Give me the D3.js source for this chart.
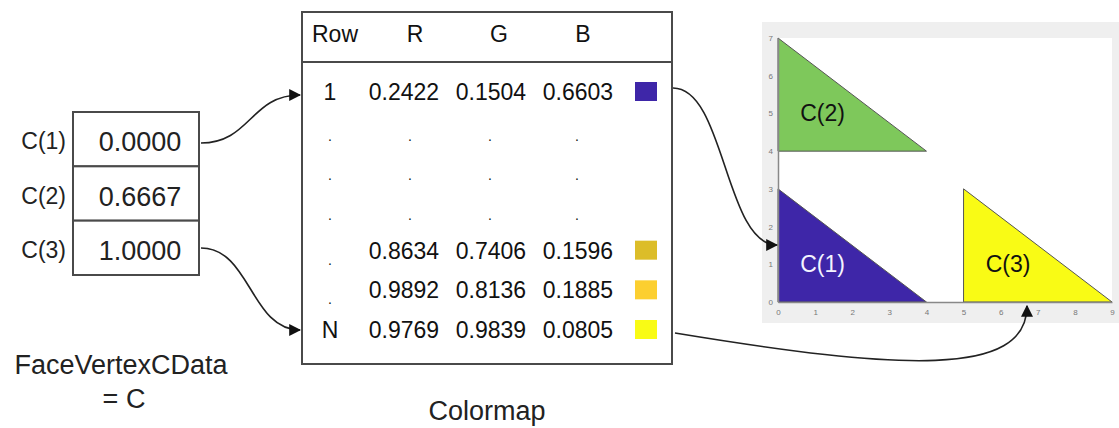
<!DOCTYPE html>
<html><head><meta charset="utf-8">
<script src="https://cdn.jsdelivr.net/npm/d3@7"></script>
<style>
html,body{margin:0;padding:0;background:#fff;}
svg{display:block;font-family:"Liberation Sans",Arial,sans-serif;}
</style></head>
<body>
<svg id="c" width="1119" height="428"></svg>
<script>
// ---------- data ----------
const faceLabels = ["C(1)", "C(2)", "C(3)"];
const faceValues = [0.0000, 0.6667, 1.0000];

const tableHeaders = ["Row", "R", "G", "B"];
const rowLabels = ["1", ".", ".", ".", ".", ".", "N"];
const rValues = [0.2422, null, null, null, 0.8634, 0.9892, 0.9769];
const gValues = [0.1504, null, null, null, 0.7406, 0.8136, 0.9839];
const bValues = [0.6603, null, null, null, 0.1596, 0.1885, 0.0805];

const triLabels = ["C(1)", "C(2)", "C(3)"];
const triXs = [[0, 4, 0], [0, 4, 0], [5, 9, 5]];
const triYs = [[0, 0, 3], [4, 4, 7], [0, 0, 3]];
const xTicks = [0, 1, 2, 3, 4, 5, 6, 7, 8, 9];
const yTicks = [0, 1, 2, 3, 4, 5, 6, 7];

// ---------- helpers ----------
const svg = d3.select("#c");
const rgb = (r, g, b) => d3.rgb(r * 255, g * 255, b * 255).formatHex();
const fmt = d3.format(".4f");
const FONT = "'Liberation Sans',Arial,sans-serif";

// arrow marker
svg.append("defs").append("marker")
  .attr("id", "ah").attr("viewBox", "0 0 10 10")
  .attr("refX", 9).attr("refY", 5)
  .attr("markerWidth", 12).attr("markerHeight", 12)
  .attr("markerUnits", "userSpaceOnUse")
  .attr("orient", "auto")
  .append("path").attr("d", "M0,0 L10,5 L0,10 Z").attr("fill", "#111");

// ---------- left: FaceVertexCData boxes ----------
const boxY = d3.scaleBand().domain(faceLabels).range([112, 275]);
const boxX0 = 73, boxX1 = 199;
const gBox = svg.append("g");
gBox.selectAll("rect").data(faceLabels).join("rect")
  .attr("x", boxX0).attr("y", d => boxY(d))
  .attr("width", boxX1 - boxX0).attr("height", boxY.bandwidth())
  .attr("fill", "#fff").attr("stroke", "#4a4a4a").attr("stroke-width", 2);
gBox.selectAll("text.lab").data(faceLabels).join("text")
  .attr("class", "lab")
  .attr("x", 66).attr("y", d => boxY(d) + boxY.bandwidth() / 2 + 2)
  .attr("text-anchor", "end").attr("dominant-baseline", "central")
  .attr("font-size", 23).attr("fill", "#222").text(d => d);
gBox.selectAll("text.val").data(faceValues).join("text")
  .attr("class", "val")
  .attr("x", 140).attr("y", (d, i) => boxY(faceLabels[i]) + boxY.bandwidth() / 2 + 3)
  .attr("text-anchor", "middle").attr("dominant-baseline", "central")
  .attr("font-size", 27).attr("fill", "#222").text(d => fmt(d));

svg.append("text").attr("x", 121).attr("y", 374).attr("text-anchor", "middle")
  .attr("font-size", 27).attr("fill", "#222").text("FaceVertexCData");
svg.append("text").attr("x", 124).attr("y", 408).attr("text-anchor", "middle")
  .attr("font-size", 27).attr("fill", "#222").text("= C");

// ---------- middle: colormap table ----------
const tX0 = 302, tX1 = 672, tY0 = 12, tY1 = 364, tHead = 62;
svg.append("rect").attr("x", tX0).attr("y", tY0).attr("width", tX1 - tX0).attr("height", tY1 - tY0)
  .attr("fill", "#fff").attr("stroke", "#4a4a4a").attr("stroke-width", 2);
svg.append("line").attr("x1", tX0).attr("x2", tX1).attr("y1", tHead).attr("y2", tHead)
  .attr("stroke", "#4a4a4a").attr("stroke-width", 2);

const headX = [335, 415, 499, 583];
svg.selectAll("text.hd").data(tableHeaders).join("text").attr("class", "hd")
  .attr("x", (d, i) => headX[i]).attr("y", 34)
  .attr("text-anchor", "middle").attr("dominant-baseline", "central")
  .attr("font-size", 23).attr("fill", "#111").text(d => d);

const rowY = d3.scaleLinear().domain([0, rowLabels.length - 1]).range([92, 330]);
const colX = [330, 404, 491, 578];
const cols = [rValues, gValues, bValues];
const DOT = 14;

rowLabels.forEach((lab, i) => {
  const y = rowY(i);
  const isDot = lab === ".";
  svg.append("text").attr("x", colX[0]).attr("y", isDot ? y + (rValues[i] == null ? 4 : 9) : y)
    .attr("text-anchor", "middle").attr("dominant-baseline", "central")
    .attr("font-size", isDot ? DOT : 23).attr("fill", "#111").text(lab);
  cols.forEach((arr, j) => {
    const v = arr[i];
    svg.append("text").attr("x", v == null ? [410, 490, 577][j] : colX[j + 1]).attr("y", v == null ? y + 4 : y)
      .attr("text-anchor", "middle").attr("dominant-baseline", "central")
      .attr("font-size", v == null ? DOT : 23).attr("fill", "#111")
      .text(v == null ? "." : fmt(v));
  });
  if (rValues[i] != null) {
    svg.append("rect").attr("x", 635).attr("y", y - 10).attr("width", 22).attr("height", 19)
      .attr("fill", rgb(rValues[i], gValues[i], bValues[i]));
  }
});

svg.append("text").attr("x", 487).attr("y", 420).attr("text-anchor", "middle")
  .attr("font-size", 27).attr("fill", "#222").text("Colormap");

// ---------- right: patch plot ----------
svg.append("rect").attr("x", 762).attr("y", 22).attr("width", 357).attr("height", 301).attr("fill", "#efefef");
const x = d3.scaleLinear().domain([0, 9]).range([778, 1112]);
const y = d3.scaleLinear().domain([0, 7]).range([302, 38]);
svg.append("rect").attr("x", x(0)).attr("y", y(7)).attr("width", x(9) - x(0)).attr("height", y(0) - y(7)).attr("fill", "#fff");

const triColors = faceValues.map(v => {
  if (v === 0) return rgb(rValues[0], gValues[0], bValues[0]);
  if (v === 1) return rgb(rValues[6], gValues[6], bValues[6]);
  return "#7ec85b";
});
const line = d3.line().x(d => x(d[0])).y(d => y(d[1]));
triXs.forEach((xs, i) => {
  const pts = xs.map((xv, k) => [xv, triYs[i][k]]);
  svg.append("path").attr("d", line(pts) + "Z")
    .attr("fill", triColors[i]).attr("stroke", "#555").attr("stroke-width", 1);
});

const ax = svg.append("g").attr("transform", `translate(0,${y(0)})`)
  .call(d3.axisBottom(x).tickValues(xTicks).tickSize(0).tickPadding(7).tickFormat(d3.format("d")));
const ay = svg.append("g").attr("transform", `translate(${x(0)},0)`)
  .call(d3.axisLeft(y).tickValues(yTicks).tickSize(0).tickPadding(5).tickFormat(d3.format("d")));
[ax, ay].forEach(g => {
  g.select(".domain").attr("stroke", "#888").attr("stroke-width", 1.5);
  g.selectAll("text").attr("font-size", 8).attr("fill", "#777").attr("font-family", FONT);
});

const triLabelPos = [[1.2, 1.0], [1.2, 5.0], [6.2, 1.0]];
triLabels.forEach((t, i) => {
  svg.append("text").attr("x", x(triLabelPos[i][0])).attr("y", y(triLabelPos[i][1]))
    .attr("text-anchor", "middle").attr("dominant-baseline", "central")
    .attr("font-size", 23).attr("fill", i === 0 ? "#f4f4ff" : "#111").text(t);
});

// ---------- connectors ----------
const link = d3.linkHorizontal();
const conn = svg.append("g").attr("fill", "none").attr("stroke", "#222").attr("stroke-width", 1.6);
conn.append("path").attr("d", link({source: [201, 143], target: [300, 95]})).attr("marker-end", "url(#ah)");
conn.append("path").attr("d", link({source: [201, 248], target: [300, 330]})).attr("marker-end", "url(#ah)");
conn.append("path").attr("d", link({source: [673, 88], target: [777, 245]})).attr("marker-end", "url(#ah)");
const p = d3.path();
p.moveTo(675, 333);
p.bezierCurveTo(900, 370, 1027, 378, 1027, 306);
conn.append("path").attr("d", p.toString()).attr("marker-end", "url(#ah)");
</script>
</body></html>
